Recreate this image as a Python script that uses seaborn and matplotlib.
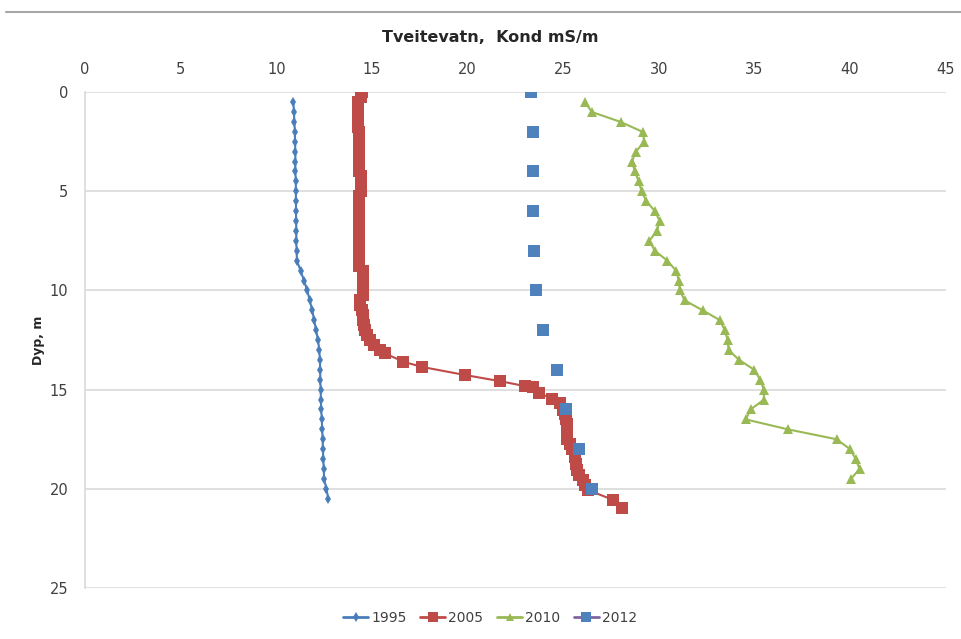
import seaborn as sns
import matplotlib.pyplot as plt
from matplotlib.lines import Line2D
import pandas as pd
import numpy as np

# Conductivity profiles (mS/m) vs depth (m), Tveitevatn
depth_1995 = [0.5 * i for i in range(1, 42)]
kond_1995 = [10.90, 10.92, 10.95, 10.97, 10.98, 11.00, 11.00, 11.00, 11.02, 11.02,
             11.03, 11.03, 11.04, 11.05, 11.05, 11.06, 11.08, 11.27, 11.45, 11.62,
             11.75, 11.88, 11.98, 12.08, 12.18, 12.25, 12.28, 12.30, 12.30, 12.32,
             12.33, 12.35, 12.38, 12.40, 12.42, 12.44, 12.46, 12.48, 12.50, 12.62, 12.72]

depth_2005 = [0.0, 0.25, 0.5, 0.75, 1.0, 1.25, 1.5, 1.75, 2.0, 2.25, 2.5, 2.75, 3.0,
              3.25, 3.5, 3.75, 4.0, 4.25, 4.5, 4.75, 5.0, 5.25, 5.5, 5.75, 6.0, 6.25,
              6.5, 6.75, 7.0, 7.25, 7.5, 7.75, 8.0, 8.25, 8.5, 8.75, 9.0, 9.25, 9.5,
              9.75, 10.0, 10.25, 10.5, 10.75, 11.0, 11.25, 11.5, 11.75, 12.0, 12.25,
              12.5, 12.75, 13.0, 13.17, 13.59, 13.85, 14.26, 14.57, 14.82, 14.89,
              15.15, 15.47, 15.69, 16.03, 16.25, 16.5, 16.75, 17.0, 17.25, 17.5,
              17.75, 18.0, 18.38, 18.75, 19.05, 19.3, 19.56, 19.8, 20.06, 20.56, 20.98]
kond_2005 = [14.50, 14.42, 14.25, 14.25, 14.25, 14.25, 14.25, 14.25, 14.35, 14.35,
             14.35, 14.35, 14.35, 14.35, 14.35, 14.35, 14.35, 14.42, 14.42, 14.42,
             14.42, 14.30, 14.30, 14.30, 14.30, 14.30, 14.30, 14.30, 14.30, 14.30,
             14.30, 14.30, 14.30, 14.30, 14.30, 14.30, 14.52, 14.52, 14.52, 14.52,
             14.52, 14.52, 14.40, 14.40, 14.50, 14.52, 14.55, 14.58, 14.64, 14.75,
             14.90, 15.10, 15.42, 15.68, 16.64, 17.60, 19.86, 21.69, 23.00, 23.44,
             23.75, 24.40, 24.83, 25.00, 25.12, 25.15, 25.18, 25.18, 25.20, 25.20,
             25.35, 25.45, 25.60, 25.65, 25.70, 25.85, 26.05, 26.15, 26.30, 27.62, 28.10]

depth_2010 = [0.5 * i for i in range(1, 40)]
kond_2010 = [26.15, 26.50, 28.00, 29.15, 29.25, 28.80, 28.60, 28.75, 28.95, 29.10,
             29.35, 29.80, 30.05, 29.90, 29.50, 29.80, 30.45, 30.90, 31.05, 31.10,
             31.35, 32.30, 33.20, 33.45, 33.60, 33.65, 34.20, 35.00, 35.30, 35.50,
             35.50, 34.80, 34.55, 36.75, 39.30, 40.00, 40.30, 40.50, 40.05]

depth_2012 = [0, 2, 4, 6, 8, 10, 12, 14, 16, 18, 20]
kond_2012 = [23.31, 23.42, 23.40, 23.40, 23.50, 23.60, 23.96, 24.69, 25.14, 25.84, 26.49]

years = ['1995', '2005', '2010', '2012']
colors = {'1995': '#4A7EBB', '2005': '#BE4B48', '2010': '#98B954', '2012': '#4F81BD'}

df95 = pd.DataFrame({'kond': kond_1995, 'dyp': depth_1995})
df05 = pd.DataFrame({'kond': kond_2005, 'dyp': depth_2005})
df10 = pd.DataFrame({'kond': kond_2010, 'dyp': depth_2010})
df12 = pd.DataFrame({'kond': kond_2012, 'dyp': depth_2012})

sns.set_style("white")
plt.rcParams['font.family'] = ['DejaVu Sans']

fig = plt.figure(figsize=(9.61, 6.39), dpi=100)
ax = fig.add_axes([0.0885, 0.0798, 0.8955, 0.776])

sns.lineplot(data=df95, x='kond', y='dyp', sort=False, estimator=None, ax=ax,
             color=colors['1995'], linewidth=1.5, marker='d', markersize=5.5,
             markeredgewidth=0)
sns.lineplot(data=df05, x='kond', y='dyp', sort=False, estimator=None, ax=ax,
             color=colors['2005'], linewidth=1.5, marker='s', markersize=8,
             markeredgewidth=0)
sns.lineplot(data=df10, x='kond', y='dyp', sort=False, estimator=None, ax=ax,
             color=colors['2010'], linewidth=1.5, marker='^', markersize=7,
             markeredgewidth=0)
sns.scatterplot(data=df12, x='kond', y='dyp', ax=ax, color=colors['2012'],
                marker='s', s=85, linewidth=0, zorder=5)

ax.set_xlim(0, 45)
ax.set_ylim(25, 0)
ax.set_xticks(np.arange(0, 46, 5))
ax.set_yticks(np.arange(0, 26, 5))
ax.xaxis.tick_top()
ax.tick_params(axis='both', length=0, labelsize=10.5, colors='#404040')
ax.tick_params(axis='x', pad=11)
ax.tick_params(axis='y', pad=12)
ax.set_xlabel('')
ax.set_ylabel('Dyp, m', fontsize=9, fontweight='bold', labelpad=3)
ax.grid(True, axis='y', color='#D9D9D9', linewidth=1.2)
ax.grid(False, axis='x')
for s in ['top', 'right', 'bottom']:
    ax.spines[s].set_visible(False)
ax.spines['left'].set_color('#D9D9D9')
ax.spines['left'].set_linewidth(1.2)

fig.text(490 / 961, 1 - 37 / 639, 'Tveitevatn,  Kond mS/m', ha='center', va='center',
         fontsize=11.5, fontweight='bold')
fig.add_artist(Line2D([6 / 961, 1.0], [1 - 12 / 639] * 2, color='#A6A6A6', linewidth=1.5))

handles = [
    Line2D([], [], color=colors['1995'], marker='d', markersize=5.5, markeredgewidth=0, linewidth=2),
    Line2D([], [], color=colors['2005'], marker='s', markersize=7, markeredgewidth=0, linewidth=2),
    Line2D([], [], color=colors['2010'], marker='^', markersize=6, markeredgewidth=0, linewidth=2),
    Line2D([], [], color='#8064A2', marker='s', markerfacecolor=colors['2012'],
           markersize=7, markeredgewidth=0, linewidth=2),
]
fig.legend(handles, years, loc='center', bbox_to_anchor=(490 / 961, 1 - 618 / 639),
           ncol=4, frameon=False, fontsize=10, handlelength=1.8, columnspacing=1.0,
           handletextpad=0.2, labelcolor='#404040')

plt.savefig('out.png', dpi=100)
